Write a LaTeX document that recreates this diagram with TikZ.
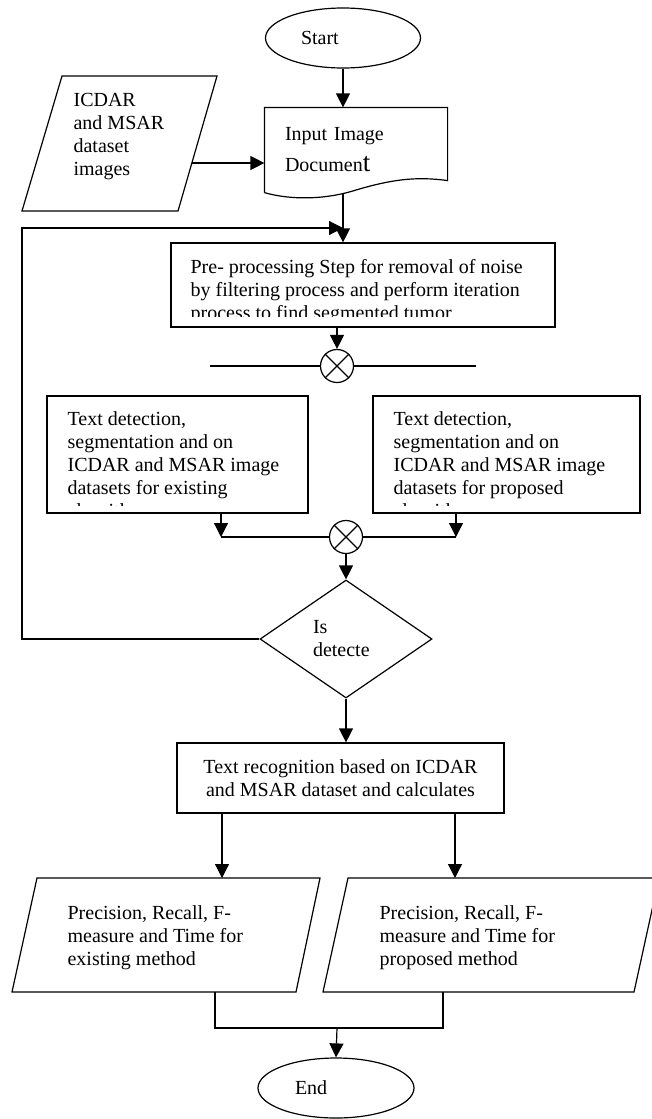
\documentclass[tikz,border=0pt]{standalone}
\usepackage{fontspec}
\setmainfont{Liberation Serif}
\usetikzlibrary{shapes.geometric,arrows.meta}

\begin{document}
\begin{tikzpicture}[x=1pt,y=-1pt,line width=1.2pt,
  txt/.style={inner sep=0pt, font=\fontsize{20}{23}\selectfont, align=left},
  box/.style={draw, inner sep=0pt},
  arr/.style={-{Triangle[length=14pt,width=14pt]}}]
  % page
  \useasboundingbox (0,0) rectangle (652,1119);

  % parameters
  \def\r{16.5}  % radius of the merge circles

  % start, input document and dataset
  \node[draw, ellipse, minimum width=155pt, minimum height=60pt, txt, text width=84pt] (start) at (343,38) {Start};
  \node[txt, minimum width=182pt, minimum height=84pt, text width=142pt] (inputdoc) at (356,150)
    {Input Image\\[8pt]Documen{\fontsize{27}{27}\selectfont t}};
  \draw (inputdoc.south west) -- (inputdoc.north west) -- (inputdoc.north east) -- ([yshift=12pt]inputdoc.south east)
    .. controls (415,176) and (390,180) .. (356,190) .. controls (325,200) and (290,200) .. (inputdoc.south west);
  \draw (62,76) -- (217,76) -- (178,211) -- (22,211) -- cycle;
  \node[txt, anchor=north west] (dataset) at (73,93) {ICDAR\\and MSAR\\dataset\\images};
  \coordinate (ds-out) at (192,163);
  \draw[arr] (start.south) -- (start.south |- inputdoc.north);
  \draw[arr] (ds-out) -- (ds-out -| inputdoc.west);

  % pre-processing
  \node[box, minimum width=384pt, minimum height=84pt] (preproc) at (363,285) {};
  \begin{scope}
    \clip (preproc.north west) rectangle ([yshift=11pt]preproc.south east);
    \node[txt, anchor=north west] (preproctext) at (190,259)
      {Pre- processing Step for removal of noise\\by filtering process and perform iteration\\process to find segmented tumor};
  \end{scope}
  \draw[arr] (start.south |- inputdoc.south) -- (start.south |- preproc.north);

  % first merge
  \node[draw, circle, minimum size=2*\r pt, inner sep=0pt] (merge1) at (337,366) {};
  \draw (merge1.north west) -- (merge1.south east) (merge1.north east) -- (merge1.south west);
  \coordinate (bar-l) at (210,366);
  \coordinate (bar-r) at (476,366);
  \draw[arr] (preproc.south -| merge1.north) -- (merge1.north);
  \draw (bar-l) -- (merge1.west) (merge1.east) -- (bar-r);

  % text detection, existing and proposed
  \node[box, minimum width=261pt, minimum height=117pt] (detexist) at (177.5,454.5) {};
  \node[box, minimum width=267pt, minimum height=117pt] (detprop) at (506.5,454.5) {};
  \begin{scope}
    \clip (detexist.north west) rectangle ([yshift=8pt]detexist.south east);
    \node[txt, anchor=north west] (detexisttext) at (67,411)
      {Text detection,\\segmentation and on\\ICDAR and MSAR image\\datasets for existing\\algorithm};
  \end{scope}
  \begin{scope}
    \clip (detprop.north west) rectangle ([yshift=8pt]detprop.south east);
    \node[txt, anchor=north west] (detproptext) at (393,411)
      {Text detection,\\segmentation and on\\ICDAR and MSAR image\\datasets for proposed\\algorithm};
  \end{scope}

  % second merge
  \node[draw, circle, minimum size=2*\r pt, inner sep=0pt] (merge2) at (346,537) {};
  \draw (merge2.north west) -- (merge2.south east) (merge2.north east) -- (merge2.south west);
  \coordinate (join-l) at (221,537);
  \coordinate (join-r) at (456,537);
  \draw[arr] (join-l |- detexist.south) -- (join-l);
  \draw[arr] (join-r |- detprop.south) -- (join-r);
  \draw (join-l) -- (merge2.west) (merge2.east) -- (join-r);

  % decision and loop back
  \node[draw, diamond, minimum width=172pt, minimum height=118pt, txt, text width=66pt] (check) at (346,639) {Is\\detecte};
  \draw[arr] (merge2.south) -- (check.north);
  \coordinate (loop) at (22,228);
  \draw[arr] (check.west) -| (loop) -- (loop -| start.south);

  % recognition
  \node[box, txt, align=center, minimum width=327pt, minimum height=70pt] (recog) at (340.5,778)
    {Text recognition based on ICDAR\\and MSAR dataset and calculates};
  \draw[arr] (check.south) -- (check.south |- recog.north);

  % results
  \draw (37,878) -- (320,878) -- (296,992) -- (12,992) -- cycle;
  \draw (348,878) -- (659,878) -- (634,992) -- (323,992) -- cycle;
  \node[txt, anchor=north west] (resexist) at (67,905) {Precision, Recall, F-\\measure and Time for\\existing method};
  \node[txt, anchor=north west] (resprop) at (379,905) {Precision, Recall, F-\\measure and Time for\\proposed method};
  \coordinate (top-l) at (222,878);
  \coordinate (top-r) at (455,878);
  \draw[arr] (recog.south -| top-l) -- (top-l);
  \draw[arr] (recog.south -| top-r) -- (top-r);

  % end
  \node[draw, ellipse, minimum width=156pt, minimum height=60pt, txt, text width=82pt] (end) at (336,1088) {End};
  \coordinate (bot-l) at (215,992);
  \coordinate (bot-r) at (443,992);
  \coordinate (join) at (337,1028);
  \draw (bot-l) |- (join) -| (bot-r);
  \draw[arr] (join) -- (end.north);
\end{tikzpicture}
\end{document}
